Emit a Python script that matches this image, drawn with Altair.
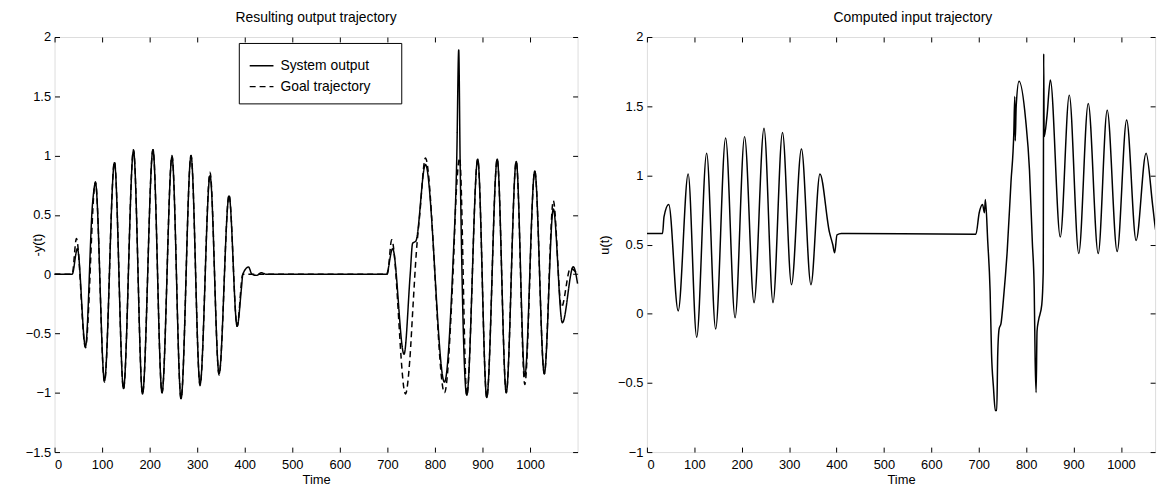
import altair as alt
import pandas as pd

FONT = "Liberation Sans"

# ---- Left panel: system output (-y(t)) ----
out_t = [0, 37, 48, 65, 80, 86, 105, 126, 145, 166, 185, 207, 226, 247, 266, 287, 306, 327, 346, 367,
         384, 393, 396, 408, 415, 425, 435, 445, 698, 711, 735, 748, 753, 760, 780, 820, 838, 846, 850,
         853, 867, 890, 909, 931, 950, 971, 989, 1010, 1030, 1049, 1068, 1091, 1100]
out_y = [0, 0, 0.215, -0.61, 0.6, 0.77, -0.90, 0.94, -0.965, 1.04, -1.01, 1.05, -1.0, 0.99, -1.05, 1.0,
         -0.93, 0.83, -0.84, 0.66, -0.44, -0.12, 0.0, 0.06, 0.0, -0.01, 0.012, 0.0, 0.0, 0.215, -0.675,
         0.0, 0.26, 0.28, 0.925, -0.91, 0.1, 1.0, 1.89, 0.95, -1.02, 0.97, -1.04, 0.97, -1.0, 0.95, -0.86,
         0.87, -0.84, 0.55, -0.41, 0.063, -0.08]

# ---- Left panel: goal trajectory ----
goal_t = [0, 37, 46, 65, 86, 105, 126, 145, 166, 185, 207, 226, 247, 266, 287, 306, 327, 346, 367, 384,
          396, 700, 709, 738, 747, 754, 761, 768, 780, 820, 838, 845, 852, 867, 890, 909, 931, 950, 971,
          989, 1010, 1030, 1049, 1066, 1085, 1100]
goal_y = [0, 0, 0.3, -0.62, 0.78, -0.91, 0.95, -0.97, 1.05, -1.01, 1.05, -1.0, 1.0, -1.05, 1.0, -0.94,
          0.86, -0.85, 0.67, -0.44, 0.0, 0.0, 0.29, -1.01, -0.73, -0.26, 0.19, 0.5, 0.98, -1.0, 0.0, 0.7,
          0.98, -1.02, 0.97, -1.04, 0.97, -1.0, 0.95, -0.93, 0.87, -0.84, 0.62, -0.28, 0.05, 0.0]

# ---- Right panel: computed input u(t) ----
u_t = [0, 33, 36, 46, 66, 87, 105, 126, 145, 166, 186, 206, 226, 247, 266, 286, 305, 326, 346, 365,
       385, 392, 396, 401, 410, 694, 701, 708, 712, 714, 719, 724, 727, 731, 735, 738, 740, 743, 747,
       752, 760, 768, 774, 776, 777, 779, 785, 799, 807, 813, 817, 819, 821, 823, 826, 833, 836, 837,
       838, 844, 851, 872, 891, 911, 931, 952, 971, 992, 1012, 1032, 1053, 1067, 1073, 1080, 1084, 1088]
u_y = [0.58, 0.58, 0.70, 0.79, 0.02, 1.01, -0.17, 1.16, -0.11, 1.27, -0.03, 1.28, 0.08, 1.34, 0.08,
       1.31, 0.21, 1.19, 0.21, 1.01, 0.59, 0.5, 0.44, 0.57, 0.58, 0.575, 0.73, 0.79, 0.73, 0.825, 0.52,
       0.16, -0.29, -0.53, -0.70, -0.70, -0.30, -0.11, -0.07, 0.1, 0.45, 0.95, 1.31, 1.57, 1.25, 1.5,
       1.68, 1.40, 1.04, 0.52, 0.18, -0.34, -0.57, -0.125, -0.05, 0.066, 0.30, 1.88, 1.28, 1.43, 1.69,
       0.555, 1.58, 0.435, 1.52, 0.435, 1.47, 0.45, 1.40, 0.53, 1.16, 0.78, 0.61, 0.54, 0.64, 0.63]

series_names = ["System output", "Goal trajectory"]
x_ticks = [0, 100, 200, 300, 400, 500, 600, 700, 800, 900, 1000]
left_y_ticks = [-1.5, -1, -0.5, 0, 0.5, 1, 1.5, 2]
right_y_ticks = [-1, -0.5, 0, 0.5, 1, 1.5, 2]

left_df = pd.concat([
    pd.DataFrame({"t": out_t, "v": out_y, "series": series_names[0], "ord": 1}),
    pd.DataFrame({"t": goal_t, "v": goal_y, "series": series_names[1], "ord": 0}),
], ignore_index=True)
right_df = pd.DataFrame({"t": u_t, "v": u_y})

PLOT_H = 419
LBL = 13
LW = 1.5
TXT = dict(labelFont=FONT, titleFont=FONT, labelFontSize=LBL, titleFontSize=LBL, labelColor="black",
           titleColor="black", titleFontWeight="normal")


def tick_axis(orient, values):
    return alt.Axis(orient=orient, values=values, labels=False, domain=False, grid=False, tickSize=5,
                    offset=-5, title=None, tickColor="black", tickWidth=1)


def tick_layers(base, xs, ys, yticks):
    bl = base.mark_line(strokeOpacity=0).encode(
        x=alt.X("t:Q", scale=xs, axis=tick_axis("bottom", x_ticks)),
        y=alt.Y("v:Q", scale=ys, axis=tick_axis("left", yticks)),
    )
    tr = base.mark_line(strokeOpacity=0).encode(
        x=alt.X("t:Q", scale=xs, axis=tick_axis("top", x_ticks)),
        y=alt.Y("v:Q", scale=ys, axis=tick_axis("right", yticks)),
    )
    return bl, tr


def x_axis():
    return alt.Axis(orient="bottom", values=x_ticks, format="d", tickSize=0, domain=False, grid=False,
                    labelPadding=7, title="Time", titlePadding=2, **TXT)


def y_axis(values, title, tx):
    return alt.Axis(orient="left", values=values, format=".1~f", tickSize=0, domain=False, grid=False,
                    labelPadding=4, title=title, titleX=tx, titleBaseline="middle", **TXT)


# ---------------- left panel ----------------
xs_l = alt.Scale(domain=[0, 1100], nice=False, zero=False)
ys_l = alt.Scale(domain=[-1.5, 2], nice=False, zero=False)
base_l = alt.Chart(left_df)
pad = "\u2800" * 2
main_l = base_l.mark_line(interpolate="monotone", color="black", strokeWidth=LW).encode(
    x=alt.X("t:Q", scale=xs_l, axis=x_axis()),
    y=alt.Y("v:Q", scale=ys_l, axis=y_axis(left_y_ticks, "-y(t)", -17)),
    strokeDash=alt.StrokeDash(
        "series:N",
        scale=alt.Scale(domain=series_names, range=[[1, 0], [6, 4]]),
        legend=alt.Legend(orient="none", legendX=186, legendY=6, title=None, symbolType="stroke",
                          symbolSize=576, symbolStrokeColor="black", symbolStrokeWidth=1.3,
                          labelFont=FONT, labelFontSize=14, labelColor="black", labelOffset=6,
                          padding=10, rowPadding=1, strokeColor="black", fillColor="white",
                          cornerRadius=0, labelExpr="datum.label + '" + pad + "'"),
    ),
    order=alt.Order("ord:Q"),
)
bl_l, tr_l = tick_layers(base_l, xs_l, ys_l, left_y_ticks)
left = alt.layer(main_l, bl_l, tr_l).resolve_axis(x="independent", y="independent").properties(
    width=528, height=PLOT_H,
    title=alt.TitleParams("Resulting output trajectory", font=FONT, fontSize=14, fontWeight="normal",
                          color="black", offset=6, anchor="middle"),
)

# ---------------- right panel ----------------
xs_r = alt.Scale(domain=[0, 1072], nice=False, zero=False)
ys_r = alt.Scale(domain=[-1, 2], nice=False, zero=False)
base_r = alt.Chart(right_df)
main_r = base_r.mark_line(interpolate="monotone", color="black", strokeWidth=LW, clip=True).encode(
    x=alt.X("t:Q", scale=xs_r, axis=x_axis()),
    y=alt.Y("v:Q", scale=ys_r, axis=y_axis(right_y_ticks, "u(t)", -43)),
)
bl_r, tr_r = tick_layers(base_r, xs_r, ys_r, right_y_ticks)
right = alt.layer(main_r, bl_r, tr_r).resolve_axis(x="independent", y="independent").properties(
    width=513, height=PLOT_H,
    title=alt.TitleParams("Computed input trajectory", font=FONT, fontSize=14, fontWeight="normal",
                          color="black", offset=6, anchor="middle", dx=12),
)

chart = alt.hconcat(left, right, spacing=16).properties(
    padding={"left": 16, "top": 0, "right": 0, "bottom": 0}
).configure_view(stroke="black", strokeWidth=1.2).configure(background="white")

chart.save("out.html", embed_options={"renderer": "svg", "actions": False})
